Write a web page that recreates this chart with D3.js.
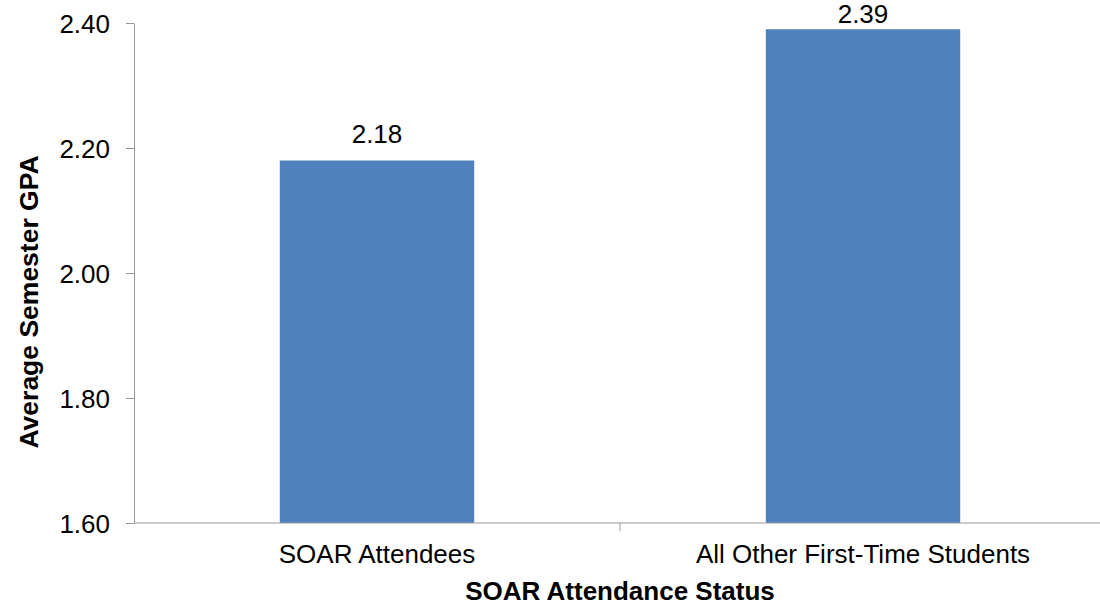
<!DOCTYPE html>
<html>
<head>
<meta charset="utf-8">
<script src="https://cdn.jsdelivr.net/npm/d3@7"></script>
<style>
  body { margin: 0; background: #fff; }
  svg text { font-family: "Liberation Sans", Arial, sans-serif; fill: #000; }
</style>
</head>
<body>
<svg id="chart"></svg>
<script>
const categories = ['SOAR Attendees', 'All Other First-Time Students'];
const gpaValues = [2.18, 2.39];
const valueLabels = ['2.18', '2.39'];
const yTicks = [1.6, 1.8, 2.0, 2.2, 2.4];

const width = 1100;
const height = 607;
const margin = { top: 23, right: -6, bottom: 84, left: 134 };

const svg = d3.select('#chart')
  .attr('width', width)
  .attr('height', height);

const data = categories.map((c, i) => ({ cat: c, value: gpaValues[i], label: valueLabels[i] }));

// Scales
const xScale = d3.scaleBand()
  .domain(categories)
  .range([margin.left, width - margin.right])
  .paddingInner(0.6)
  .paddingOuter(0.3);

const yScale = d3.scaleLinear()
  .domain([1.6, 2.4])
  .range([height - margin.bottom, margin.top]);

const axisColor = '#999';

// Bars
svg.append('g')
  .selectAll('rect')
  .data(data)
  .join('rect')
  .attr('x', d => xScale(d.cat))
  .attr('y', d => yScale(d.value))
  .attr('width', xScale.bandwidth())
  .attr('height', d => yScale(1.6) - yScale(d.value))
  .style('fill', '#4F81BD');

// Value labels (kept inside the chart near the top edge)
svg.append('g')
  .selectAll('text')
  .data(data)
  .join('text')
  .attr('x', d => xScale(d.cat) + xScale.bandwidth() / 2)
  .attr('y', d => Math.max(yScale(d.value) - 18, 23))
  .attr('text-anchor', 'middle')
  .style('font-size', '26px')
  .text(d => d.label);

// Y axis
const yAxis = svg.append('g')
  .attr('transform', `translate(${margin.left}, 0)`)
  .call(d3.axisLeft(yScale).tickValues(yTicks).tickFormat(d3.format('.2f')).tickSize(8).tickSizeOuter(0));

yAxis.select('.domain').attr('stroke', axisColor);
yAxis.selectAll('.tick line').attr('stroke', axisColor);
yAxis.selectAll('.tick text')
  .attr('x', -24)
  .attr('dy', '0.35em')
  .style('font-size', '26px')
  .style('font-family', '"Liberation Sans", Arial, sans-serif')
  .attr('fill', '#000');

// X axis
const xBottom = yScale(1.6);
const xAxis = svg.append('g')
  .attr('transform', `translate(0, ${xBottom})`);

xAxis.append('line')
  .attr('x1', margin.left)
  .attr('x2', width)
  .attr('stroke', axisColor);

// Tick between the two categories
const midX = (xScale(categories[0]) + xScale.bandwidth() + xScale(categories[1])) / 2;
xAxis.append('line')
  .attr('x1', midX)
  .attr('x2', midX)
  .attr('y1', 0)
  .attr('y2', 8)
  .attr('stroke', axisColor);

xAxis.selectAll('text.cat-label')
  .data(categories)
  .join('text')
  .attr('class', 'cat-label')
  .attr('x', d => xScale(d) + xScale.bandwidth() / 2)
  .attr('y', 40)
  .attr('text-anchor', 'middle')
  .style('font-size', '26px')
  .text(d => d);

// Axis titles
svg.append('text')
  .attr('x', midX)
  .attr('y', 600)
  .attr('text-anchor', 'middle')
  .style('font-size', '26px')
  .style('font-weight', 'bold')
  .text('SOAR Attendance Status');

svg.append('text')
  .attr('transform', 'translate(38, 302) rotate(-90)')
  .attr('text-anchor', 'middle')
  .style('font-size', '26.5px')
  .style('font-weight', 'bold')
  .text('Average Semester GPA');
</script>
</body>
</html>
